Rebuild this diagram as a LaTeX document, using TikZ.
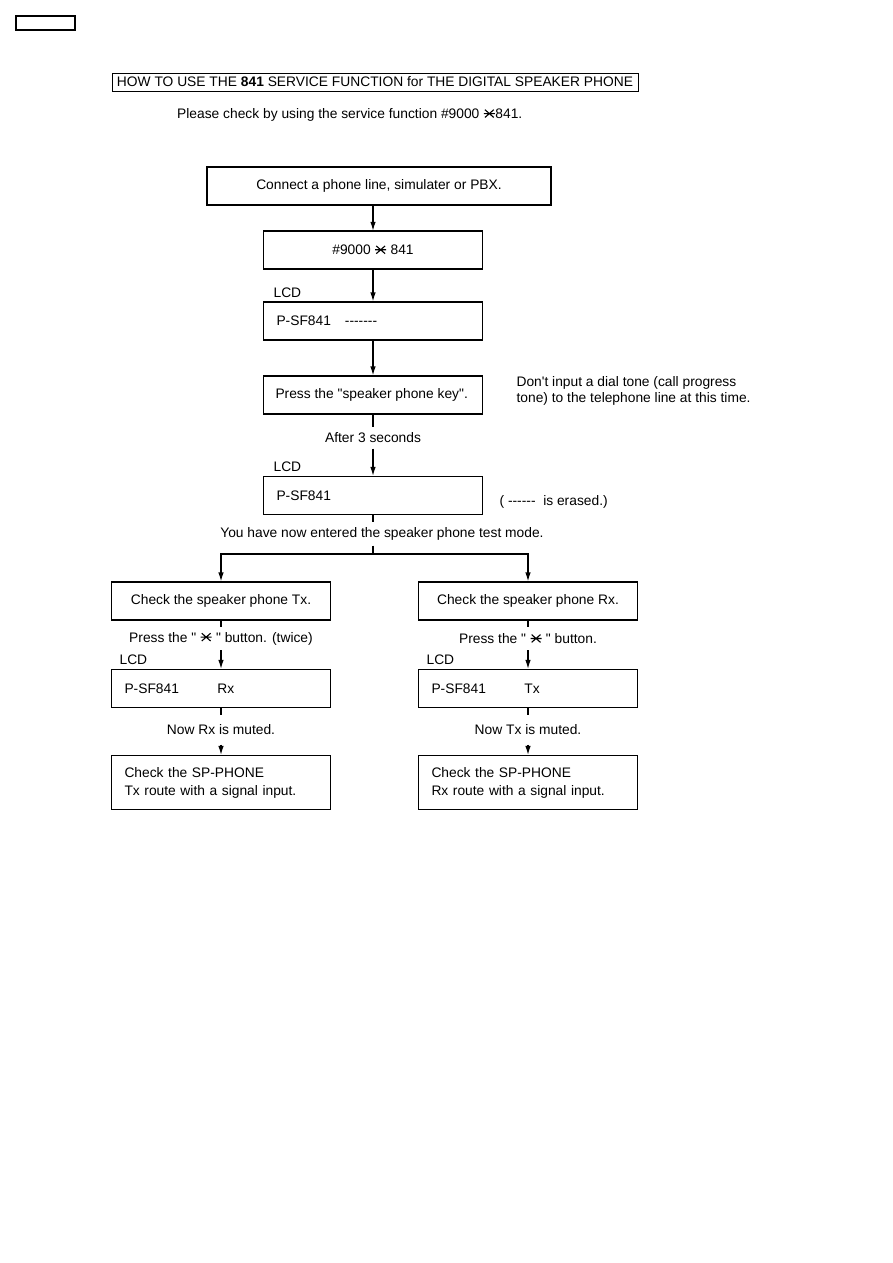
\documentclass[tikz,border=0pt]{standalone}
\usepackage{fontspec}
\setmainfont{Liberation Sans}[Ligatures=TeXOff]
\usetikzlibrary{arrows.meta}
\newcommand{\keystar}{\tikz[baseline=-0.36em,line width=1.1pt]{\draw (-0.4em,0pt) -- (0.4em,0pt) (-0.32em,-0.28em) -- (0.32em,0.28em) (-0.32em,0.28em) -- (0.32em,-0.28em);}}
\begin{document}
\begin{tikzpicture}[x=1pt,y=-1pt,line width=1.2pt,
  font=\fontsize{13.8}{16.5}\selectfont,
  box/.style={draw,minimum width=219pt,minimum height=38pt,inner sep=0pt},
  lbox/.style={box,text width=193pt,inner xsep=13pt,align=left},
  note/.style={inner sep=0pt,minimum height=22pt},
  lcd/.style={anchor=west,inner sep=0pt},
  arr/.style={-{Latex[length=9pt,width=5.5pt]}}]
\fill[white] (0,0) rectangle (893,1263);
\useasboundingbox (0,0) rectangle (893,1263);

\node[draw,minimum width=59pt,minimum height=14pt,inner sep=0pt] (tag) at (45.5,23) {};
\node[draw,line width=0.9pt,minimum width=526pt,minimum height=18pt,inner sep=0pt] (title) at (375,82)
  {HOW TO USE THE \textbf{841} SERVICE FUNCTION for THE DIGITAL SPEAKER PHONE};
\node[anchor=west,inner sep=0pt] (please) at (177,115) {Please check by using the service function \#9000 \keystar841.};

\node[box,minimum width=344pt] (connect) at (379,186) {Connect a phone line, simulater or PBX.};
\node[box] (dial) at (373,250) {\#9000 \keystar{} 841};
\node[lcd] (lcdtagone) at (273,293) {LCD};
\node[lbox] (lcdone) at (373,321) {P-SF841\hspace{14pt}-------};
\node[box] (spkey) at (373,395) {\makebox[195pt][l]{Press the "speaker phone key".}};
\node[anchor=west,align=left,inner sep=0pt] (tonenote) at (516,391)
  {Don't input a dial tone (call progress\\tone) to the telephone line at this time.};
\node[note,minimum height=20pt] (wait) at (373,438) {After 3 seconds};
\node[lcd] (lcdtagtwo) at (273,467) {LCD};
\node[lbox] (lcdtwo) at (373,495.5) {P-SF841};
\node[anchor=west,inner sep=0pt] (erased) at (499,502) {( ------\ \ is erased.)};
\node[note] (testmode) at (382,534) {You have now entered the speaker phone test mode.};
\coordinate (split) at (373,554);

\node[box] (txchk) at (221,601) {Check the speaker phone Tx.};
\node[note,minimum height=23pt] (txpress) at (221,638.5) {Press the " \keystar{} " button. (twice)};
\node[lcd] (lcdtagtx) at (119,660) {LCD};
\node[lbox] (txlcd) at (221,688.5) {\makebox[93pt][l]{P-SF841}Rx};
\node[note,minimum height=28pt] (txmute) at (221,730) {Now Rx is muted.};
\node[lbox,minimum height=54pt,font=\fontsize{13.8}{18}\selectfont] (txroute) at (221,782.5)
  {Check the SP-PHONE\\Tx route with a signal input.};

\node[box] (rxchk) at (528,601) {Check the speaker phone Rx.};
\node[note,minimum height=23pt] (rxpress) at (528,638.5) {Press the " \keystar{} " button.};
\node[lcd] (lcdtagrx) at (426,660) {LCD};
\node[lbox] (rxlcd) at (528,688.5) {\makebox[93pt][l]{P-SF841}Tx};
\node[note,minimum height=28pt] (rxmute) at (528,730) {Now Tx is muted.};
\node[lbox,minimum height=54pt,font=\fontsize{13.8}{18}\selectfont] (rxroute) at (528,782.5)
  {Check the SP-PHONE\\Rx route with a signal input.};

\draw[arr] (dial.north |- connect.south) -- (dial.north);
\draw[arr] (dial) -- (lcdone);
\draw[arr] (lcdone) -- (spkey);
\draw (spkey) -- (wait);
\draw[arr] (wait) -- (lcdtwo);
\draw (lcdtwo.south) -- (lcdtwo.south |- testmode.north);
\draw (lcdtwo.south |- testmode.south) -- (split);
\draw[arr] (split) -| (txchk.north);
\draw[arr] (split) -| (rxchk.north);

\draw (txchk) -- (txpress);
\draw[arr] (txpress) -- (txlcd);
\draw (txlcd) -- (txmute);
\draw[arr] (txmute) -- (txroute);

\draw (rxchk) -- (rxpress);
\draw[arr] (rxpress) -- (rxlcd);
\draw (rxlcd) -- (rxmute);
\draw[arr] (rxmute) -- (rxroute);
\end{tikzpicture}
\end{document}
